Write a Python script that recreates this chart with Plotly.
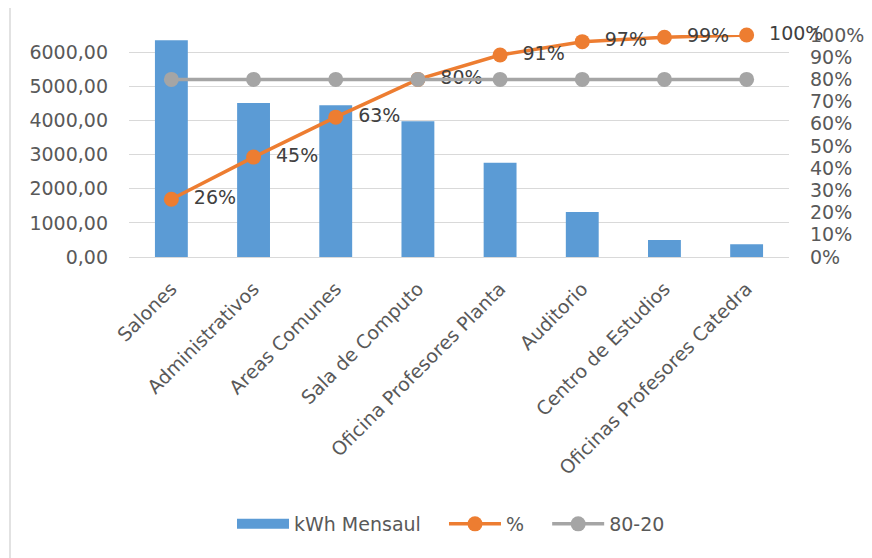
import plotly.graph_objects as go

categories = ["Salones", "Administrativos", "Areas Comunes", "Sala de Computo",
              "Oficina Profesores Planta", "Auditorio", "Centro de Estudios",
              "Oficinas Profesores Catedra"]
kwh = [6345, 4512, 4444, 3977, 2757, 1316, 497, 371]
pct = [0.26, 0.45, 0.63, 0.80, 0.91, 0.97, 0.99, 1.00]
ref_8020 = [0.80] * 8

FONT = "DejaVu Sans"
GRAY_TXT = "#595959"
NB = "\u00a0"
PAD = NB * 3

# page has an 8px body margin; compensate so plot area lands at x 129-789, y 35-257
L, T, PW, PH = 121, 27, 660, 222
W, H = 872, 558

fig = go.Figure()
fig.add_trace(go.Bar(x=categories, y=kwh, name="kWh Mensaul", showlegend=False,
                     marker=dict(color="#5B9BD5", line=dict(width=0)), yaxis="y"))
# legend stand-in for the bar series (wide swatch like the original)
fig.add_trace(go.Scatter(x=[None], y=[None], name="kWh Mensaul" + PAD, mode="lines",
                         line=dict(color="#5B9BD5", width=14), legendrank=1))
fig.add_trace(go.Scatter(x=categories, y=pct, name="%" + PAD, yaxis="y2",
                         mode="lines+markers+text",
                         line=dict(color="#ED7D31", width=3.5),
                         marker=dict(color="#ED7D31", size=15),
                         texttemplate=NB + NB + "%{y:.0%}", textposition="middle right",
                         textfont=dict(family=FONT, size=19, color="#404040"),
                         cliponaxis=False, legendrank=2))
fig.add_trace(go.Scatter(x=categories, y=ref_8020, name="80-20", yaxis="y2",
                         mode="lines+markers",
                         line=dict(color="#A5A5A5", width=3.5),
                         marker=dict(color="#A5A5A5", size=15),
                         cliponaxis=False, legendrank=3))

def px_x(p):
    return (p - L) / PW

def px_y(p):
    return (T + PH - p) / PH

fig.update_layout(
    width=W, height=H,
    margin=dict(l=L, r=W - L - PW, t=T, b=H - T - PH, autoexpand=False),
    paper_bgcolor="white", plot_bgcolor="white",
    separators=",.",
    font=dict(family=FONT, size=19, color=GRAY_TXT),
    bargap=0.6,
    showlegend=True,
    legend=dict(orientation="h", x=px_x(443), xanchor="center", y=px_y(516), yanchor="middle",
                font=dict(family=FONT, size=19, color=GRAY_TXT),
                itemwidth=52),
    xaxis=dict(type="category", tickangle=-45, showgrid=False, showline=False,
               ticks="", automargin=False, ticklabelstandoff=16,
               tickfont=dict(family=FONT, size=19, color=GRAY_TXT)),
    yaxis=dict(range=[0, 6500], dtick=1000, tick0=0, tickformat=".2f",
               showgrid=True, gridcolor="#D9D9D9", gridwidth=1.3,
               zeroline=True, zerolinecolor="#D9D9D9", zerolinewidth=1.3,
               ticks="", ticklabelstandoff=20, automargin=False,
               tickfont=dict(family=FONT, size=19, color=GRAY_TXT)),
    yaxis2=dict(range=[0, 1], dtick=0.1, tick0=0, tickformat=".0%",
                overlaying="y", side="right", showgrid=False, zeroline=False,
                ticks="", ticklabelstandoff=20, automargin=False,
                tickfont=dict(family=FONT, size=19, color=GRAY_TXT)),
    shapes=[dict(type="rect", xref="paper", yref="paper",
                 x0=px_x(2), x1=px_x(890), y0=px_y(580), y1=px_y(-3),
                 line=dict(color="#D9D9D9", width=1.5), layer="below")],
)

fig.write_html("out.html")
